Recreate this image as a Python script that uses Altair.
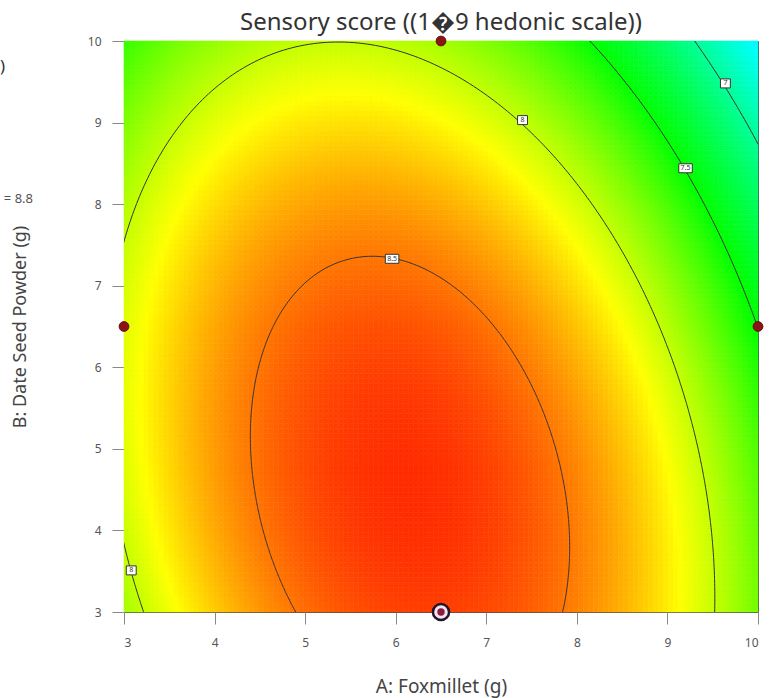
import altair as alt
import numpy as np
import pandas as pd

# Quadratic response model in actual factors:
# score = b0 + b1*A + b2*B + b12*A*B + b11*A^2 + b22*B^2
b0, b1, b2 = 5.25981, 0.87533, 0.32821
b12, b11, b22 = -0.01846, -0.06437, -0.02398

contour_levels = [8.5, 8.0, 7.5, 7.0]

# contour label boxes
label_text = ["8.5", "8", "7.5", "7", "8"]
label_A = [5.96, 7.40, 9.20, 9.64, 3.08]
label_B = [7.33, 9.03, 8.44, 9.48, 3.51]

# design points
design_A = [6.5, 3.0, 10.0]
design_B = [10.0, 6.5, 6.5]
center_A = [6.5]
center_B = [3.0]

ticks = [3, 4, 5, 6, 7, 8, 9, 10]


def model(a, b):
    return b0 + b1 * a + b2 * b + b12 * a * b + b11 * a * a + b22 * b * b


# heat-map grid
nA, nB = 127, 115
ea = np.linspace(3, 10, nA + 1)
eb = np.linspace(3, 10, nB + 1)
rows = []
for i in range(nA):
    for j in range(nB):
        ca = (ea[i] + ea[i + 1]) / 2
        cb = (eb[j] + eb[j + 1]) / 2
        rows.append((round(ea[i], 4), round(ea[i + 1], 4), round(eb[j], 4),
                     round(eb[j + 1], 4), round(float(model(ca, cb)), 4)))
grid = pd.DataFrame(rows, columns=["a0", "a1", "b0", "b1", "v"])

# iso-lines: ellipses around the stationary point of the model
M = np.array([[b11, b12 / 2], [b12 / 2, b22]])
g = np.array([b1, b2])
p0 = -0.5 * np.linalg.solve(M, g)
f0 = model(*p0)
lines = []
th = np.linspace(0, 2 * np.pi, 721)
for L in contour_levels:
    for k, t in enumerate(th):
        u = np.array([np.cos(t), np.sin(t)])
        r = np.sqrt((L - f0) / (u @ M @ u))
        lines.append((L, k, p0[0] + r * u[0], p0[1] + r * u[1]))
iso = pd.DataFrame(lines, columns=["level", "k", "A", "B"])

labels = pd.DataFrame({"t": label_text, "A": label_A, "B": label_B})
labels["wide"] = labels["t"].str.len() > 1
design = pd.DataFrame({"A": design_A, "B": design_B})
center = pd.DataFrame({"A": center_A, "B": center_B})

xs = alt.Scale(domain=[3, 10], nice=False, zero=False)
ys = alt.Scale(domain=[3, 10], nice=False, zero=False)
cs = alt.Scale(domain=[6.0, 6.65, 7.5, 8.15, 8.8],
               range=["#0000ff", "#00ffff", "#00ff00", "#ffff00", "#ff0000"],
               interpolate="rgb")

heat = alt.Chart(grid).mark_rect(strokeWidth=0.6).encode(
    x=alt.X("a0:Q", scale=xs, axis=alt.Axis(values=ticks, format="d", title="A: Foxmillet (g)",
                                             titleFontSize=19, titlePadding=29, labelPadding=13)),
    x2="a1",
    y=alt.Y("b0:Q", scale=ys, axis=alt.Axis(values=ticks, format="d", title="B: Date Seed Powder (g)",
                                             titleFontSize=18, titlePadding=58, labelPadding=11)),
    y2="b1",
    color=alt.Color("v:Q", scale=cs, legend=None),
    stroke=alt.Stroke("v:Q", scale=cs, legend=None),
)

contours = alt.Chart(iso).mark_line(clip=True, color="#333333", strokeWidth=1).encode(
    x=alt.X("A:Q", scale=xs), y=alt.Y("B:Q", scale=ys),
    detail="level:N", order="k:Q")

box_wide = alt.Chart(labels).transform_filter("datum.wide").mark_point(
    shape="M-1.5,-1H1.5V1H-1.5Z", size=81, filled=True, fill="white",
    stroke="#333", strokeWidth=1, opacity=1).encode(
    x=alt.X("A:Q", scale=xs), y=alt.Y("B:Q", scale=ys))
box_narrow = alt.Chart(labels).transform_filter("!datum.wide").mark_point(
    shape="M-1.1,-1H1.1V1H-1.1Z", size=81, filled=True, fill="white",
    stroke="#333", strokeWidth=1, opacity=1).encode(
    x=alt.X("A:Q", scale=xs), y=alt.Y("B:Q", scale=ys))
label_txt = alt.Chart(labels).mark_text(fontSize=7, font="Noto Sans", color="#333").encode(
    x=alt.X("A:Q", scale=xs), y=alt.Y("B:Q", scale=ys), text="t:N")

dots = alt.Chart(design).mark_circle(size=95, color="#8e1414", opacity=1,
                                     stroke="#5a0a0a", strokeWidth=1).encode(
    x=alt.X("A:Q", scale=xs), y=alt.Y("B:Q", scale=ys))
ring = alt.Chart(center).mark_circle(size=260, color="#f2e4ee", opacity=1,
                                     stroke="#24142a", strokeWidth=2.5).encode(
    x=alt.X("A:Q", scale=xs), y=alt.Y("B:Q", scale=ys))
ring_dot = alt.Chart(center).mark_circle(size=55, color="#8e1a3a", opacity=1).encode(
    x=alt.X("A:Q", scale=xs), y=alt.Y("B:Q", scale=ys))

# legend fragments at the left edge of the page
side = pd.DataFrame({"t": [")", "= 8.8"], "px": [-124, -91], "py": [26, 158]})
side_l = alt.Chart(side.iloc[[0]]).mark_text(fontSize=17, font="Noto Sans", color="#333",
                                            align="left").encode(
    x=alt.X("px:Q", scale=None), y=alt.Y("py:Q", scale=None), text="t:N")
side_r = alt.Chart(side.iloc[[1]]).mark_text(fontSize=13, font="Noto Sans", color="#555",
                                            align="right").encode(
    x=alt.X("px:Q", scale=None), y=alt.Y("py:Q", scale=None), text="t:N")

chart = alt.layer(heat, contours, box_wide, box_narrow, label_txt, dots, ring, ring_dot,
                  side_l, side_r).properties(
    width=634, height=571,
    title=alt.TitleParams("Sensory score ((1\ufffd9 hedonic scale))", fontSize=24,
                          font="Noto Sans", color="#333", fontWeight="normal", offset=-1),
    padding={"left": 124, "top": 41, "right": 11, "bottom": 86},
    autosize=alt.AutoSizeParams(type="none"),
).configure_view(stroke="#4a4a4a", strokeWidth=1).configure_axis(
    grid=False, domain=False, tickSize=12, tickColor="#888", labelColor="#555",
    labelFontSize=12, labelFont="Noto Sans", titleFont="Noto Sans",
    titleFontWeight="normal", titleColor="#444")

chart.save("out.html", embed_options={"renderer": "svg", "actions": False})
